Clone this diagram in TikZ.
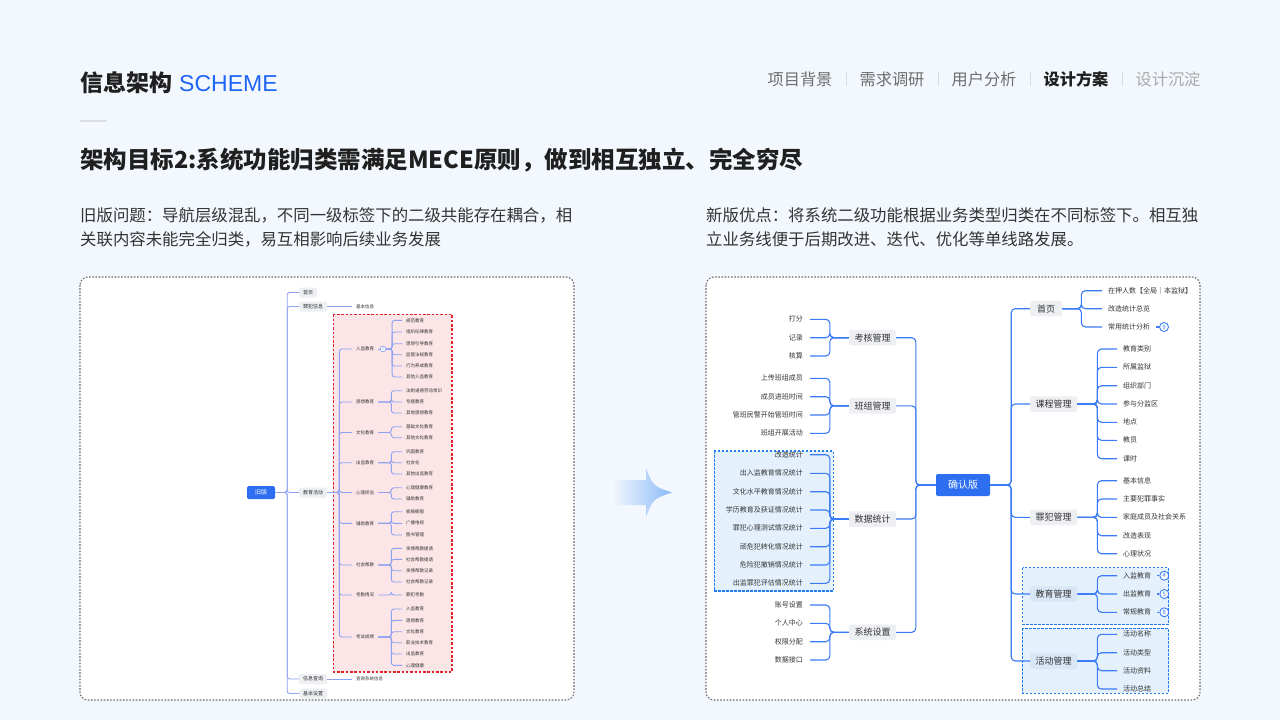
\documentclass[tikz,border=0pt]{standalone}
\usepackage{fontspec}
\setmainfont{Noto Sans CJK SC}
\newfontfamily\latinsans{Liberation Sans}
\usetikzlibrary{calc}
\definecolor{bg}{HTML}{F3F8FE}
\definecolor{accent}{HTML}{1F66F5}
\definecolor{dark}{HTML}{1F1F1F}
\definecolor{body}{HTML}{333333}
\definecolor{navgray}{HTML}{6E6E6E}
\definecolor{navlight}{HTML}{A9A9A9}
\definecolor{sepc}{HTML}{D9DCE1}
\definecolor{panelb}{HTML}{6A6A6A}
\definecolor{lcol}{HTML}{8FA2F2}
\definecolor{rcol}{HTML}{3B7BF6}
\definecolor{boxg}{HTML}{EDEFF2}
\definecolor{boxb}{HTML}{D9E6F5}
\definecolor{redb}{HTML}{E3222C}
\definecolor{redf}{HTML}{FBE5E7}
\definecolor{blueb}{HTML}{1F7EF2}
\definecolor{bluef}{HTML}{E4F1FD}
\definecolor{rootc}{HTML}{2E6FF2}
\definecolor{arrowc}{HTML}{8CBAF8}
\definecolor{txt}{HTML}{333333}
\definecolor{rulec}{HTML}{DCDFE5}

\tikzset{
 lline/.style={draw=lcol,line width=0.9pt,rounded corners=2.5pt},
 rline/.style={draw=rcol,line width=1.1pt,rounded corners=4pt},
 oldbox/.style={fill=rootc,text=white,rounded corners=1.5pt,minimum width=28pt,minimum height=13pt,inner sep=0pt,font=\fontsize{6}{6}\selectfont},
 lbox/.style={fill=boxg,text=txt,rounded corners=1.5pt,minimum height=10pt,inner xsep=4pt,inner ysep=0pt,anchor=west,font=\fontsize{5}{5}\selectfont},
 ltxt/.style={text=txt,inner xsep=4pt,inner ysep=0.5pt,anchor=west,font=\fontsize{4.5}{4.5}\selectfont},
 lcirc/.style={circle,draw=lcol,fill=white,line width=0.7pt,minimum size=5.6pt,inner sep=0pt,text=lcol,font=\fontsize{3.5}{3.5}\selectfont},
 rootbox/.style={fill=rootc,text=white,rounded corners=2pt,minimum width=54pt,minimum height=22pt,inner sep=0pt,font=\fontsize{10}{10}\selectfont},
 pbox/.style={fill=boxg,text=txt,rounded corners=2pt,minimum width=47pt,minimum height=15.5pt,inner sep=0pt,font=\fontsize{9}{9}\selectfont},
 rtxtL/.style={text=txt,inner xsep=7pt,inner ysep=1pt,anchor=east,font=\fontsize{7}{7}\selectfont},
 rtxtR/.style={text=txt,inner xsep=6pt,inner ysep=1pt,anchor=west,font=\fontsize{7}{7}\selectfont},
 rcirc/.style={circle,draw=rcol,fill=white,line width=0.9pt,minimum size=9pt,inner sep=0pt,text=rcol,font=\fontsize{6}{6}\selectfont},
 reddash/.style={draw=redb,fill=redf,line width=1.6pt,dash pattern=on 2.5pt off 1.8pt},
 bluedash/.style={draw=blueb,fill=bluef,line width=1.2pt,dash pattern=on 2.5pt off 1.5pt},
 panel/.style={draw=panelb,fill=white,line width=1.1pt,dash pattern=on 1.6pt off 1.6pt,rounded corners=8pt},
 navt/.style={font=\fontsize{16.2}{16}\selectfont,text=navgray,inner sep=0pt},
 para/.style={anchor=west,inner sep=0pt,align=left,font=\fontsize{16.4}{24}\selectfont,text=body},
}

\newcommand\lfan[4]{%
 \foreach \yy/\lab [count=\k] in {#4} {
   \node[ltxt] (#1c\k) at (#3,\yy) {\lab};
   \draw[lline] (#1.east) -- ++(#2,0) |- (#1c\k.west);
 }}
\newcommand\rfanL[3]{%
 \foreach \yy/\lab [count=\k] in {#3} {
   \node[rtxtL] (#1c\k) at (810,\yy) {\lab};
   \draw[rline] (#1.west) -- ++(-#2,0) |- (#1c\k.east);
 }}
\newcommand\rfanR[4]{%
 \foreach \yy/\lab [count=\k] in {#4} {
   \node[rtxtR] (#1c\k) at (#3,\yy) {\lab};
   \draw[rline] (#1.east) -- ++(#2,0) |- (#1c\k.west);
 }}

\begin{document}
\begin{tikzpicture}[x=1pt,y=-1pt]
\useasboundingbox (0,0) rectangle (1280,720);
\fill[bg] (0,0) rectangle (1280,720);

% header
\node[anchor=west,inner sep=0pt,font=\fontsize{23}{23}\selectfont,text=dark] (head) at (80,83) {\bfseries 信息架构\hspace{7pt}\mdseries\latinsans\color{accent}SCHEME};
\draw[rulec,line width=2pt] (80,121) -- (107,121);
\node[navt] (n1) at (800,79) {项目背景};
\node[navt] (n2) at (892,79) {需求调研};
\node[navt] (n3) at (984,79) {用户分析};
\node[navt,text=dark,font=\fontsize{16.2}{16}\selectfont\bfseries] (n4) at (1076,79) {设计方案};
\node[navt,text=navlight] (n5) at (1168,79) {设计沉淀};
\foreach \x in {846,938,1030,1122} \draw[sepc,line width=1pt] (\x,72) -- (\x,86);

\node[anchor=west,inner sep=0pt,font=\fontsize{23.5}{23.5}\selectfont\bfseries,text=dark] (goal) at (80,160) {架构目标2:系统功能归类需满足MECE原则，做到相互独立、完全穷尽};
\node[para] (oldp) at (80,227) {旧版问题：导航层级混乱，不同一级标签下的二级共能存在耦合，相\\关联内容未能完全归类，易互相影响后续业务发展};
\node[para] (newp) at (706,227) {新版优点：将系统二级功能根据业务类型归类在不同标签下。相互独\\立业务线便于后期改进、迭代、优化等单线路发展。};

% panels
\draw[panel] (80,277) rectangle (574,700);
\draw[panel] (706,277) rectangle (1200,700);

% arrow
\shade[left color=bg,right color=arrowc] (612,480) -- (646,480) -- (646,468) .. controls (653,486) .. (672,492.5) .. controls (653,499) .. (646,517) -- (646,505) -- (612,505) -- cycle;

% ===== left (old) tree =====
\draw[reddash] (333.3,314.3) rectangle (452,671.7);
\node[oldbox] (old) at (261,492.5) {旧版};
\node[lbox] (l1a) at (299,292.5) {首页};
\node[lbox] (l1b) at (299,306.5) {罪犯信息};
\node[lbox] (l1c) at (299,492.5) {教育活动};
\node[lbox] (l1d) at (299,679) {信息查询};
\node[lbox] (l1e) at (299,693.5) {基本设置};
\foreach \n in {l1a,l1b,l1c,l1d,l1e} \draw[lline] (old.east) -- ++(12,0) |- (\n.west);
\node[ltxt] (l2x) at (352,306.5) {基本信息};
\draw[lline] (l1b.east) -- (l2x.west);
\node[ltxt] (l2y) at (352,679) {查询系统信息};
\draw[lline] (l1d.east) -- (l2y.west);

\foreach \yy/\lab [count=\i] in {349/入监教育,402/思想教育,432.5/文化教育,462.7/出监教育,492.5/心理矫治,523.3/辅助教育,565/社会帮教,595/考勤情况,637/考试成绩} {
  \node[ltxt] (m\i) at (352,\yy) {\lab};
  \draw[lline] (l1c.east) -- ++(12,0) |- (m\i.west);
}
\node[lcirc] (lc) at (383,349) {6};
\draw[lline] (m1.east) -- (lc.west);
\lfan{lc}{6}{402}{320.3/规范教育,332/组织纪律教育,343.7/思想引导教育,354.7/监管法规教育,366/行为养成教育,377/其他入监教育}
\lfan{m2}{13}{402}{390.7/法制道德劳动常识,402/专题教育,413/其他思想教育}
\lfan{m3}{13}{402}{426.7/基础文化教育,437.7/其他文化教育}
\lfan{m4}{13}{402}{451.7/巩固教育,462.7/社会化,474/其他出监教育}
\lfan{m5}{13}{402}{487.7/心理健康教育,499/辅助教育}
\lfan{m6}{13}{402}{511.7/板报橱窗,523.3/广播电视,535/图书管理}
\lfan{m7}{13}{402}{548.3/亲情帮教提请,559.3/社会帮教提请,570.7/亲情帮教记录,582/社会帮教记录}
\lfan{m8}{13}{402}{595/罪犯考勤}
\lfan{m9}{13}{402}{609/入监教育,620.3/思想教育,631.7/文化教育,642.7/职业技术教育,654/出监教育,665.3/心理健康}

% ===== right (new) tree =====
\draw[bluedash] (714.3,451) rectangle (833.3,591);
\draw[bluedash] (1022.7,567.7) rectangle (1168.3,624.3);
\draw[bluedash] (1022.7,628.3) rectangle (1168.3,693.3);

\node[rootbox] (new) at (963,485) {确认版};
\node[pbox] (pa) at (872.5,337.7) {考核管理};
\node[pbox] (pb) at (872.5,405.8) {班组管理};
\node[pbox] (pc) at (872.5,519) {数据统计};
\node[pbox] (pd) at (872.5,632.3) {系统设置};
\foreach \n in {pa,pb,pc,pd} \draw[rline] (new.west) -- ++(-20,0) |- (\n.east);

\node[pbox,anchor=west,minimum width=32pt] (qa) at (1030,308.7) {首页};
\node[pbox,anchor=west] (qb) at (1030,404) {课程管理};
\node[pbox,anchor=west] (qc) at (1030,517.3) {罪犯管理};
\node[pbox,anchor=west,fill=boxb] (qd) at (1030,594) {教育管理};
\node[pbox,anchor=west,fill=boxb] (qe) at (1030,661) {活动管理};
\foreach \n in {qa,qb,qc,qd,qe} \draw[rline] (new.east) -- ++(21,0) |- (\n.west);

\rfanL{pa}{19}{319.3/打分,337.7/记录,356/核算}
\rfanL{pb}{19}{378.3/上传班组成员,396.7/成员进班时间,415/管班民警开始管班时间,433.3/班组开展活动}
\rfanL{pc}{19}{454.7/改造统计,473.3/出入监教育情况统计,491.7/文化水平教育情况统计,510/学历教育及获证情况统计,528.3/罪犯心理测试情况统计,546.7/顽危犯转化情况统计,565/危险犯撤销情况统计,583.3/出监罪犯评估情况统计}
\rfanL{pd}{19}{605/账号设置,623.3/个人中心,641.7/权限分配,660/数据接口}

\rfanR{qa}{19}{1102}{290.7/在押人数【全局｜本监狱】,308.7/改造统计总览,327/常用统计分析}
\rfanR{qb}{20}{1117}{349/教育类别,367.3/所属监狱,385.7/组织部门,404/参与分监区,422.3/地点,440.3/教员,458.7/课时}
\rfanR{qc}{20}{1117}{480.7/基本信息,499/主要犯罪事实,517.3/家庭成员及社会关系,535.7/改造表现,553.7/心理状况}
\rfanR{qd}{20}{1117}{575.7/入监教育,594/出监教育,612.3/常规教育}
\rfanR{qe}{20}{1117}{634.3/活动名称,652.7/活动类型,670.7/活动资料,689/活动总结}

\node[rcirc] (k9) at (1164,327) {9};
\draw[rline] (qac3.east) -- (k9.west);
\node[rcirc] (k4) at (1164.3,575.7) {4};
\draw[rline] (qdc1.east) -- (k4.west);
\node[rcirc] (k5) at (1164.3,594) {5};
\draw[rline] (qdc2.east) -- (k5.west);
\node[rcirc] (k8) at (1164.3,612.3) {8};
\draw[rline] (qdc3.east) -- (k8.west);
\end{tikzpicture}
\end{document}
